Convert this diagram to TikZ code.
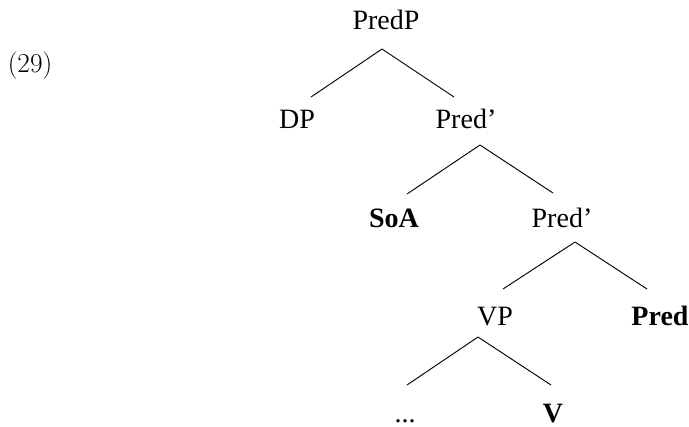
\documentclass[tikz,border=0pt]{standalone}
\usepackage{fontspec}
\newfontfamily\treefont{Liberation Serif}
\usetikzlibrary{calc}

\tikzset{
  label/.style={anchor=base,inner sep=0pt,font=\treefont\fontsize{21}{24}\selectfont},
  head/.style={label,font=\treefont\bfseries\fontsize{21}{24}\selectfont},
  branch/.style={line width=0.7pt}
}

\begin{document}
\begin{tikzpicture}[x=0.75pt,y=-0.75pt]
	\useasboundingbox (0,0) rectangle (689,426);
	
	%NUMBER
	\node[anchor=base,inner sep=0pt,font=\fontsize{20.5}{24}\selectfont] (ex) at (30,72) {(29)};
	
	%LEVEL ONE
	\node[label] (predp) at (386,29) {PredP};
	\node[label] (dp) at (297,128) {DP};
	\node[label] (predbar) at (466,128) {Pred’};
	\draw[branch] ($(predp.base)+(-4,20)$)--($(dp.base)+(14,-31)$);
	\draw[branch] ($(predp.base)+(-4,20)$)--($(predbar.base)+(-12,-31)$);
	
	%LEVEL TWO
	\node[head] (soa) at (394,227) {SoA};
	\node[label] (predbarb) at (562,227) {Pred’};
	\draw[branch] ($(predbar.base)+(14,17)$)--($(soa.base)+(13,-33)$);
	\draw[branch] ($(predbar.base)+(14,17)$)--($(predbarb.base)+(-9,-34)$);
	
	%LEVEL THREE
	\node[label] (vp) at (495,325) {VP};
	\node[head] (pred) at (660,325) {Pred};
	\draw[branch] ($(predbarb.base)+(13,15)$)--($(vp.base)+(8,-36)$);
	\draw[branch] ($(predbarb.base)+(13,15)$)--($(pred.base)+(-13,-36)$);
	
	%LEVEL FOUR
	\node[label] (dots) at (405,422) {...};
	\node[head] (v) at (553,422) {V};
	\draw[branch] ($(vp.base)+(-17,12)$)--($(dots.base)+(2,-37)$);
	\draw[branch] ($(vp.base)+(-17,12)$)--($(v.base)+(-2,-37)$);
	
	%\draw[help lines,step=50] (0,0) grid (689,426);
\end{tikzpicture}
\end{document}
